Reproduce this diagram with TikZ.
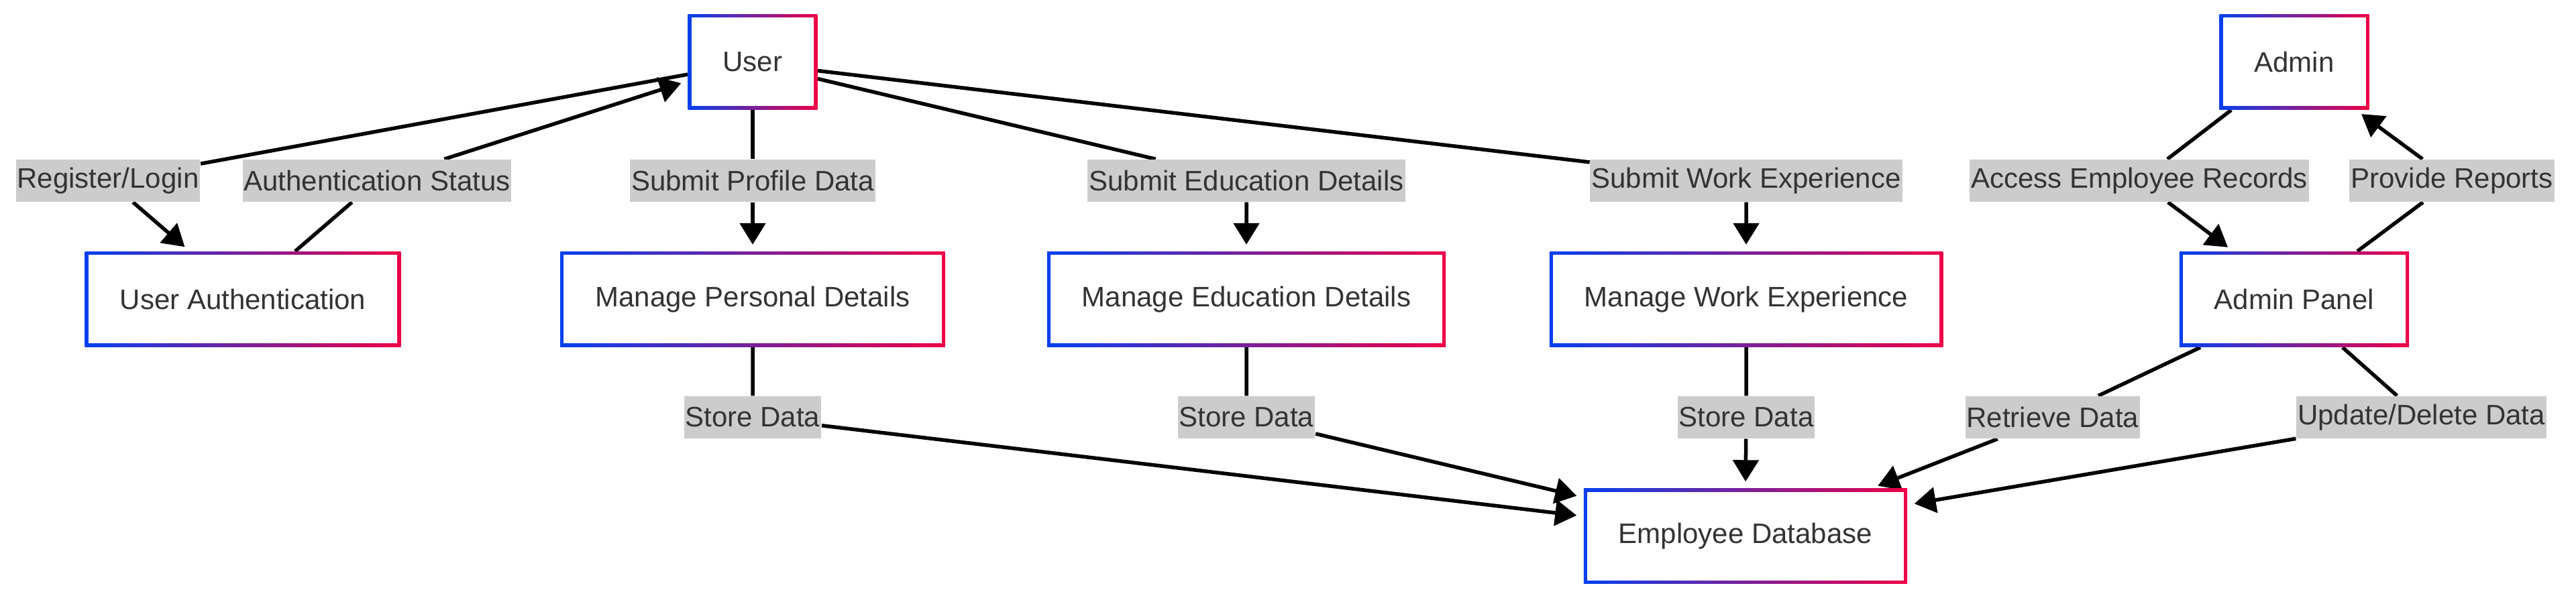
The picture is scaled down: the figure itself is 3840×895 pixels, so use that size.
\documentclass[tikz,border=0pt]{standalone}
\usepackage{fontspec}
\setmainfont{Liberation Sans}
\usetikzlibrary{arrows.meta,calc}
\definecolor{gblue}{HTML}{0540EE}
\definecolor{gred}{HTML}{EE0046}
\definecolor{txt}{HTML}{333333}
\definecolor{lblbg}{HTML}{CCCCCC}
\pgfdeclarelayer{bg}
\pgfdeclarelayer{edges}
\pgfsetlayers{bg,edges,main}
\tikzset{
  box/.style={rectangle, inner xsep=5.2mm, inner ysep=0pt, minimum height=14.2mm,
    text=txt, font=\fontsize{11.95pt}{14pt}\selectfont,
    left color=gblue, right color=gred,
    path picture={\fill[white] ([shift={(0.5mm,0.5mm)}]path picture bounding box.south west)
      rectangle ([shift={(-0.5mm,-0.5mm)}]path picture bounding box.north east);}},
  lbl/.style={rectangle, fill=lblbg, inner xsep=0.2mm, inner ysep=0pt, minimum height=6.3mm,
    text=txt, font=\fontsize{11.95pt}{14pt}\selectfont},
  arr/.style={line width=0.55mm, black, -{Triangle[length=3.2mm,width=3.8mm]}, shorten >=1mm}
}
\begin{document}
\begin{tikzpicture}[x=0.1mm,y=-0.1mm]
\begin{pgfonlayer}{bg}
\fill[white] (0,0) rectangle (3840,895);
\end{pgfonlayer}
\path[use as bounding box] (0,0) rectangle (3840,895);

% nodes
\node[box] (user) at (1122,92.5) {User};
\node[box] (admin) at (3420,92.5) {Admin};
\node[box] (auth) at (362,446.5) {User Authentication};
\node[box] (pers) at (1122,446.5) {Manage Personal Details};
\node[box] (edu) at (1858,446.5) {Manage Education Details};
\node[box] (work) at (2603,446.5) {Manage Work Experience};
\node[box] (panel) at (3420,446.5) {Admin Panel};
\node[box] (db) at (2602,800) {Employee Database};

% labels
\node[lbl] (l1) at (161,269.5) {Register/Login};
\node[lbl] (l2) at (562,269.5) {Authentication Status};
\node[lbl] (l3) at (1122,269.5) {Submit Profile Data};
\node[lbl] (l4) at (1858,269.5) {Submit Education Details};
\node[lbl] (l5) at (2603,269.5) {Submit Work Experience};
\node[lbl] (l6) at (3189,269.5) {Access Employee Records};
\node[lbl] (l7) at (3655,269.5) {Provide Reports};
\node[lbl] (l8) at (1122,622.5) {Store Data};
\node[lbl] (l9) at (1858,622.5) {Store Data};
\node[lbl] (l10) at (2603,622.5) {Store Data};
\node[lbl] (l11) at (3060,622.5) {Retrieve Data};
\node[lbl] (l12) at (3609.5,622.5) {Update/Delete Data};

% edges
\begin{pgfonlayer}{edges}
\draw[arr] ($(user.west)+(0,18.5)$) -- (l1) -- ($(auth.north)+(-79,0)$);
\draw[arr] ($(auth.north)+(78,0)$) -- (l2) -- ($(user.west)+(0,28.5)$);
\draw[arr] (user.south) -- (l3) -- (pers.north);
\draw[arr] ($(user.east)+(0,25)$) -- (l4) -- (edu.north);
\draw[arr] ($(user.east)+(0,13)$) -- (l5) -- (work.north);
\draw[arr] ($(admin.south)+(-94,0)$) -- (l6) -- ($(panel.north)+(-91,0)$);
\draw[arr] ($(panel.north)+(94,0)$) -- (l7) -- ($(admin.south)+(92,0)$);
\draw[arr] (pers.south) -- (l8) -- ($(db.west)+(0,-30)$);
\draw[arr] (edu.south) -- (l9) -- ($(db.west)+(0,-58)$);
\draw[arr] (work.south) -- (l10) -- (db.north);
\draw[arr] ($(panel.south)+(-140,0)$) -- (l11) -- ($(db.north)+(188,0)$);
\draw[arr] ($(panel.south)+(72,0)$) -- (l12) -- ($(db.east)+(0,-47)$);
\end{pgfonlayer}
\end{tikzpicture}
\end{document}
